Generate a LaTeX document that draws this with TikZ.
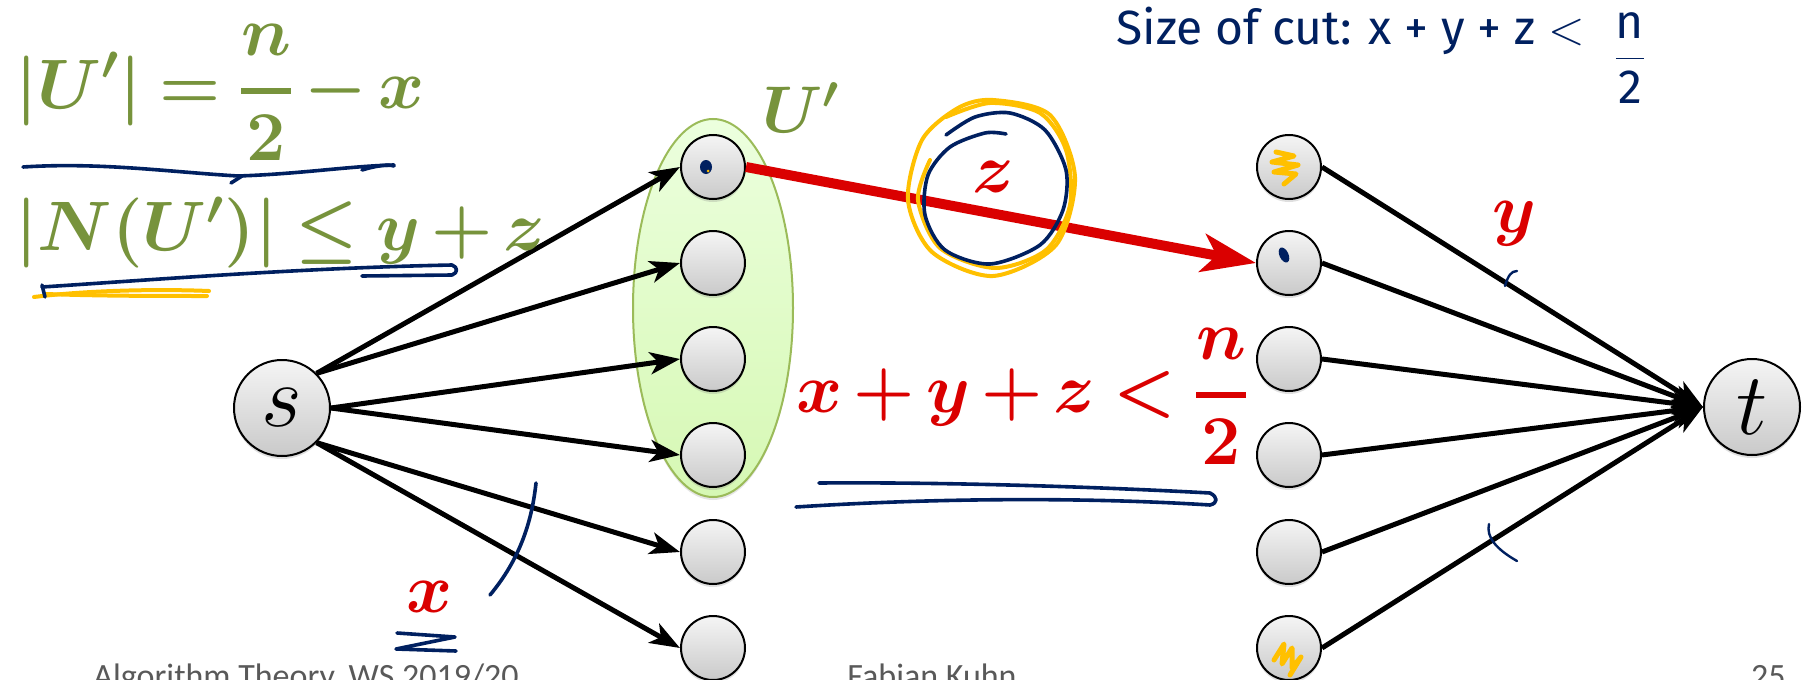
\RequirePackage{fix-cm}
\documentclass[tikz,border=0pt]{standalone}
\usepackage{fontspec}
\usetikzlibrary{arrows.meta,shadows,shapes.geometric}
\newfontfamily\footfont{Carlito}
\newfontfamily\handfont{Fira Sans}
\newcommand\tightmath{\thickmuskip=4mu\relax\medmuskip=2.5mu\relax}
\newcommand\thickfrac[2]{{#1\above 3pt #2}}
\definecolor{fgreen}{RGB}{119,147,60}
\definecolor{fred}{RGB}{218,0,0}
\definecolor{ink}{RGB}{0,32,96}
\definecolor{hl}{RGB}{255,192,0}
\definecolor{footgray}{RGB}{89,89,89}
\definecolor{setborder}{RGB}{155,187,89}
\definecolor{settop}{RGB}{236,255,222}
\definecolor{setbot}{RGB}{214,248,180}
\begin{document}
\begin{tikzpicture}[x=0.5pt,y=-0.5pt,
  vertex/.style={circle, draw=black, line width=1pt, minimum size=32pt, inner sep=0pt,
    top color=gray!8, bottom color=gray!42,
    drop shadow={shadow xshift=0pt, shadow yshift=-1.5pt, opacity=0.25}},
  term/.style={vertex, minimum size=48pt, font=\fontsize{44}{44}\selectfont},
  sedge/.style={line width=2.5pt, -{Stealth[length=15pt,width=11pt,inset=4pt]}},
  cutedge/.style={draw=fred, line width=5pt, -{Stealth[length=27pt,width=19pt,inset=7pt]}},
  inkline/.style={draw=ink, line width=1.8pt, line cap=round, line join=round},
  hiline/.style={draw=hl, line width=2pt, line cap=round, line join=round},
  bigmath/.style={font=\fontsize{35}{37}\selectfont\boldmath, inner sep=0pt, anchor=base west},
  foot/.style={font=\footfont\fontsize{17}{17}\selectfont, text=footgray, inner sep=0pt},
  hand/.style={inner sep=0pt, text=ink, font=\handfont\fontsize{24}{26}\selectfont},
]
\useasboundingbox (0,0) rectangle (1806,680);
\clip (0,0) rectangle (1806,680);
\fill[white] (0,0) rectangle (1806,680);

% the set U'
\node[ellipse, draw=setborder, line width=1pt, top color=settop, bottom color=setbot,
  minimum width=80pt, minimum height=189pt, inner sep=0pt,
  drop shadow={shadow xshift=0pt, shadow yshift=-1.5pt, opacity=0.2}] (U) at (713,308) {};

% nodes
\node[term] (s) at (282,408) {$s$};
\node[term] (t) at (1752,407) {$t$};
\foreach \i/\y in {1/167,2/263,3/359,4/455,5/552,6/648}{
  \node[vertex] (L\i) at (713,\y) {};
  \node[vertex] (R\i) at (1289,\y) {};
}

% edges
\draw[sedge] (s.north east) -- (L1.west);
\draw[sedge] (s.north east) -- (L2.west);
\draw[sedge] (s.east) -- (L3.west);
\draw[sedge] (s.east) -- (L4.west);
\draw[sedge] (s.south east) -- (L5.west);
\draw[sedge] (s.south east) -- (L6.west);
\foreach \i in {1,...,6}{ \draw[sedge] (R\i.east) -- (t.west); }
\draw[cutedge] (L1.east) -- (R2.west);

% texts
\node[bigmath, text=fgreen] (f1) at (15,108) {$\tightmath\displaystyle |U'| = \thickfrac{n}{2} - x$};
\node[bigmath, text=fgreen] (f2) at (15,250) {$\tightmath |N(U')| \le y + z$};
\node[bigmath, text=fgreen, font=\fontsize{33}{35}\selectfont\boldmath] (ul) at (762,132) {$U'$};
\node[bigmath, text=fred, anchor=base] (zl) at (993,192) {$z$};
\node[bigmath, text=fred] (f3) at (796,412) {$\tightmath\displaystyle x+y+z<\thickfrac{n}{2}$};
\node[bigmath, text=fred] (yl) at (1492,232) {$y$};
\node[bigmath, text=fred] (xl) at (406,612) {$x$};
\node[hand, anchor=base west] (hw) at (1116,45) {Size of cut: x + y + z $<$};
\node[hand] (hwf) at (1630,58) {$\displaystyle\frac{\mbox{\handfont n}}{\mbox{\handfont 2}}$};

% footer
\node[foot, anchor=base west] (ft1) at (93,687) {Algorithm Theory, WS 2019/20};
\node[foot, anchor=base west] (ft2) at (847,687) {Fabian Kuhn};
\node[foot, anchor=base east] (ft3) at (1786,687) {25};

% ink annotations
\draw[inkline] (23,167) .. controls (100,162) and (170,172) .. (238,176) .. controls (300,174) and (350,166) .. (394,165);
\draw[inkline] (231,183) -- (242,176);
\draw[inkline] (362,170) .. controls (375,166) and (388,164) .. (394,166);
\draw[hiline] (34,297) .. controls (90,290) and (160,289) .. (209,291);
\draw[hiline] (46,294) .. controls (100,296) and (160,296) .. (207,296);
\draw[inkline] (42,287) .. controls (150,280) and (300,268) .. (452,265) .. controls (458,267) and (458,273) .. (452,275) -- (362,276);
\draw[inkline] (42,285) -- (45,297);
\draw[inkline] (536,483) .. controls (531,530) and (515,565) .. (490,595);
\draw[inkline] (397,633) -- (455,637) -- (396,649) -- (456,651);
\draw[inkline] (819,483) .. controls (950,482) and (1100,487) .. (1210,493) .. controls (1218,497) and (1218,503) .. (1210,505) .. controls (1100,498) and (950,497) .. (796,507);
\draw[inkline, line width=1.2pt] (1505,286) .. controls (1508,276) and (1511,271) .. (1517,271);
\draw[inkline, line width=1.2pt] (1489,524) .. controls (1486,537) and (1496,549) .. (1517,561);

% circle round z
\draw[hiline] plot[smooth cycle] coordinates {(993,100) (1050,115) (1075,177) (1056,245) (993,276) (932,252) (908,200) (922,140) (958,108)};
\draw[hiline] plot[smooth] coordinates {(946,117) (990,103) (1040,113) (1066,150) (1070,205) (1046,250) (995,268) (940,248) (918,200) (930,160)};
\draw[inkline] plot[smooth] coordinates {(946,135) (975,117) (1010,113) (1045,130) (1066,170) (1063,210) (1040,245) (990,264) (945,250) (925,215) (928,175) (950,147) (985,133) (1006,134)};

% scribbles in nodes
\fill[ink] (706,167) ellipse [x radius=6, y radius=7];
\fill[hl] (708,171) circle [radius=1.5];
\fill[ink, rotate around={25:(1284,255)}] (1284,255) ellipse [x radius=4.5, y radius=8];
\draw[hiline, line width=2.5pt] (1276,152) -- (1294,156) -- (1272,162) -- (1298,165) -- (1274,172) -- (1296,174) -- (1284,184);
\draw[hiline, line width=2.5pt] (1274,660) -- (1284,644) -- (1282,664) -- (1292,648) -- (1292,668) -- (1301,657) -- (1290,675);
\end{tikzpicture}
\end{document}
